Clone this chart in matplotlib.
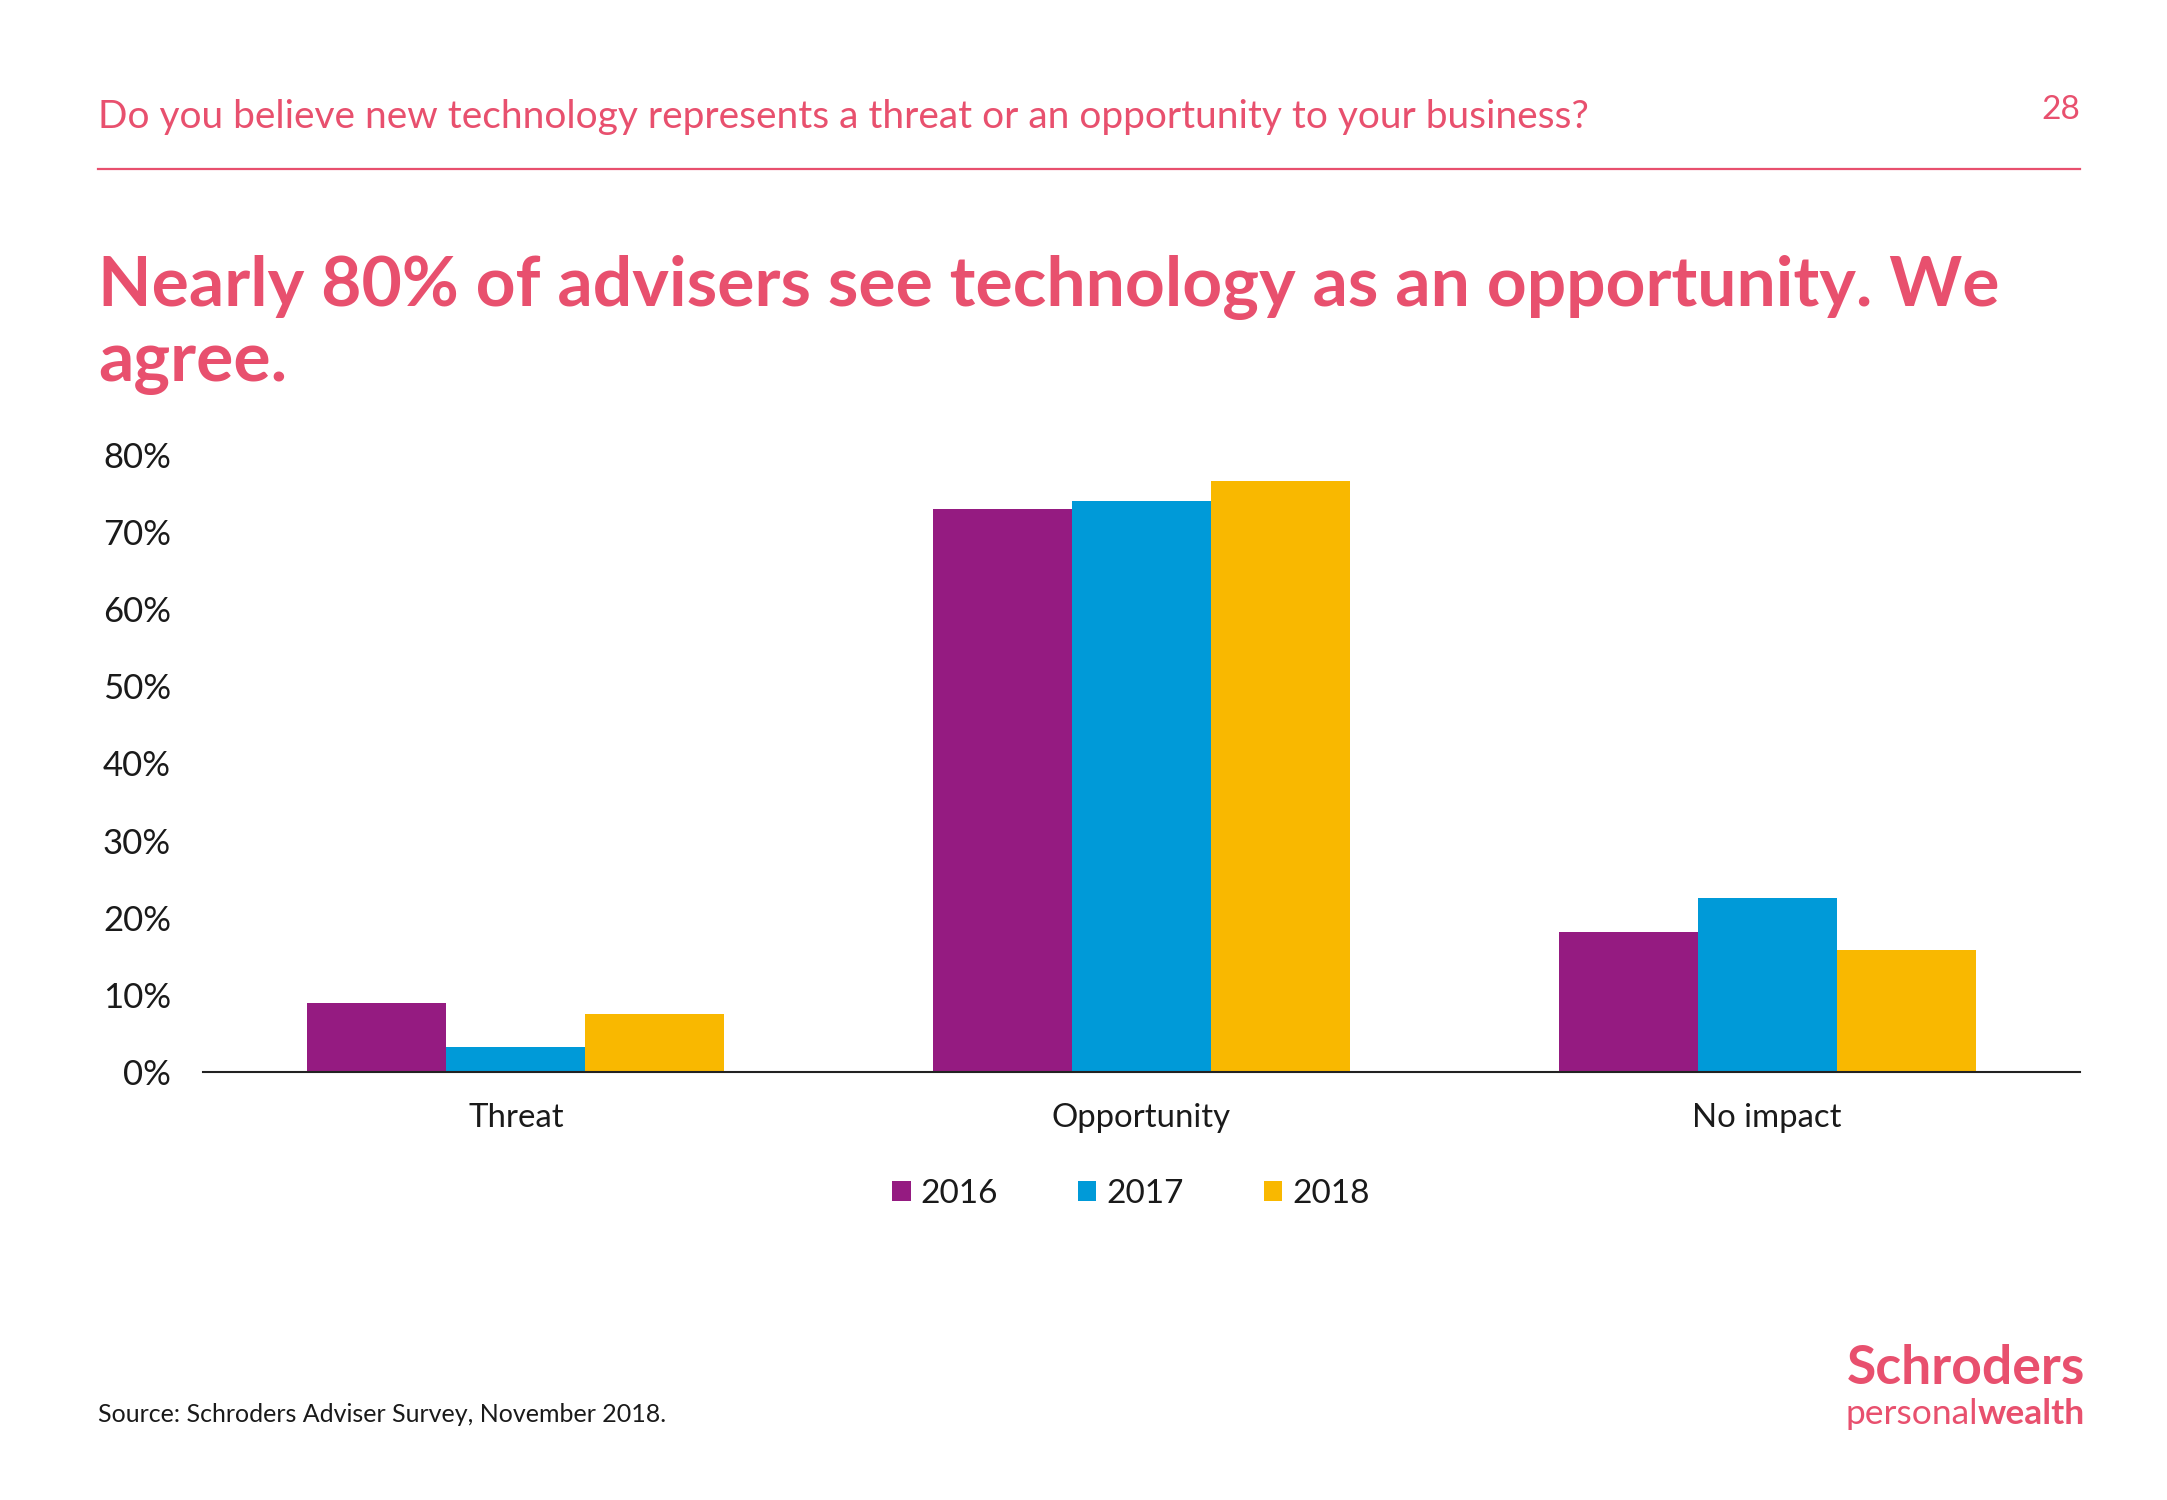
import numpy as np
import matplotlib.pyplot as plt

# =========================
# DATA
# =========================
categories = ["Threat", "Opportunity", "No impact"]
years = ["2016", "2017", "2018"]
values_2016 = [9.0, 73.0, 18.1]
values_2017 = [3.3, 74.0, 22.6]
values_2018 = [7.5, 76.6, 15.8]
yticks = [0, 10, 20, 30, 40, 50, 60, 70, 80]

question = "Do you believe new technology represents a threat or an opportunity to your business?"
headline = "Nearly 80% of advisers see technology as an opportunity. We\nagree."
source = "Source: Schroders Adviser Survey, November 2018."
page_no = "28"

# =========================
# STYLE
# =========================
PINK = "#E8506E"
colors = ["#951B81", "#009AD8", "#F9B800"]
TEXT = "#1a1a1a"
plt.rcParams["font.family"] = ["Lato", "DejaVu Sans"]

W, H = 2167, 1500


def fx(px):
    return px / W


def fy(py):
    return 1 - py / H


fig = plt.figure(figsize=(W / 100, H / 100), dpi=100)
fig.patch.set_facecolor("white")

# header
fig.text(fx(98), fy(117), question, color=PINK, fontsize=28, va="center", ha="left")
fig.text(fx(2080), fy(110), page_no, color=PINK, fontsize=24, va="center", ha="right")
fig.add_artist(plt.Line2D([fx(98), fx(2080)], [fy(169), fy(169)], color=PINK, lw=1.6))

# headline
fig.text(fx(98), fy(325), headline, color=PINK, fontsize=50, fontweight="bold",
         va="center", ha="left", linespacing=1.18)

# =========================
# CHART
# =========================
ax = fig.add_axes([fx(203), fy(1072), fx(2080) - fx(203), fy(455) - fy(1072)])

x = np.arange(len(categories))
width = 2 / 9
series = [values_2016, values_2017, values_2018]
for i, (vals, year) in enumerate(zip(series, years)):
    ax.bar(x + (i - 1) * width, vals, width, color=colors[i], label=year, linewidth=0)

ax.set_xlim(-0.5, len(categories) - 0.5)
ax.set_ylim(0, 80)
ax.set_yticks(yticks)
ax.set_yticklabels([f"{t}%" for t in yticks])
ax.set_xticks(x)
ax.set_xticklabels(categories)

for side in ["top", "right", "left"]:
    ax.spines[side].set_visible(False)
ax.spines["bottom"].set_color("#222222")
ax.spines["bottom"].set_linewidth(1.5)
ax.tick_params(axis="y", length=0, pad=23, labelsize=25, labelcolor=TEXT)
ax.tick_params(axis="x", length=0, pad=22, labelsize=23.7, labelcolor=TEXT)

leg = fig.legend(loc="center", bbox_to_anchor=(fx(1131), fy(1194)), ncol=3, frameon=False,
                 fontsize=24, handlelength=0.55, handleheight=0.55, handletextpad=0.3,
                 columnspacing=2.4, labelcolor=TEXT)

# footer
fig.text(fx(98), fy(1414), source, color=TEXT, fontsize=18, va="center", ha="left")
fig.text(fx(2085), fy(1368), "Schroders", color=PINK, fontsize=38.5, fontweight="bold",
         va="center", ha="right")
t_w = fig.text(fx(2085), fy(1414), "wealth", color=PINK, fontsize=25.5, fontweight="bold",
               va="center", ha="right")
fig.canvas.draw()
bb = t_w.get_window_extent()
fig.text(bb.x0 / W, fy(1414), "personal", color=PINK, fontsize=25.5, va="center", ha="right")

fig.savefig("out.png", dpi=100)
